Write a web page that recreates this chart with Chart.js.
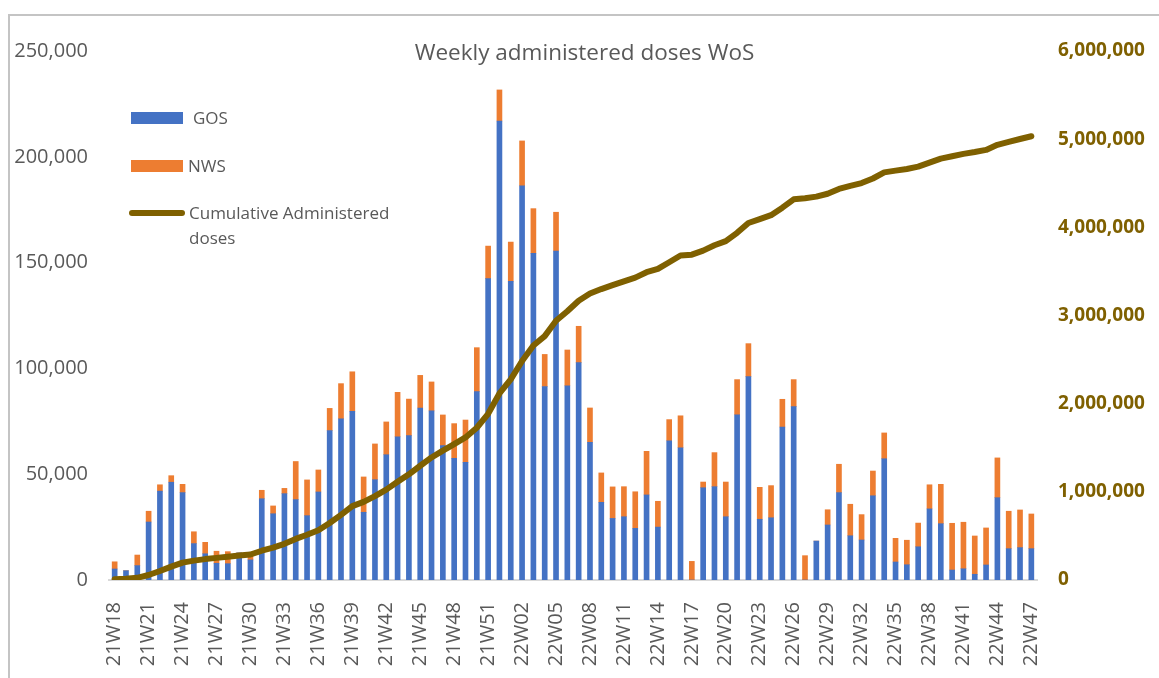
<!DOCTYPE html>
<html>
<head>
<meta charset="utf-8">
<title>Weekly administered doses WoS</title>
<script src="https://cdn.jsdelivr.net/npm/chart.js@4.4.0/dist/chart.umd.min.js"></script>
<style>
    body { margin: 0; background: #fff; font-family: 'Open Sans', sans-serif; }
    .wrap { position: relative; width: 1159px; height: 678px; overflow: hidden; }
    .frame { position: absolute; left: 8px; top: 14px; width: 1200px; height: 700px;
             border-top: 2px solid #c4c4c4; border-left: 2px solid #c4c4c4; }
    .title { position: absolute; left: 0; width: 1169px; top: 36px; text-align: center;
             font-size: 22.5px; color: #595959; }
    .legend { position: absolute; font-size: 17px; color: #595959; line-height: 25px; }
    .swatch { position: absolute; width: 52px; height: 12px; }
    .lineswatch { position: absolute; width: 56px; height: 6px; border-radius: 3px; background: #7F6000; }
    canvas { position: absolute; left: 0; top: 0; }
</style>
</head>
<body>
<div class="wrap">
    <div class="frame"></div>
    <canvas id="dosesChart" width="1159" height="678"></canvas>
    <div class="title">Weekly administered doses WoS</div>
    <div class="swatch" style="left:131px; top:112px; background:#4472C4"></div>
    <div class="legend" style="left:193px; top:105px">GOS</div>
    <div class="swatch" style="left:131px; top:160px; background:#ED7D31"></div>
    <div class="legend" style="left:188px; top:153px">NWS</div>
    <div class="lineswatch" style="left:129px; top:210px"></div>
    <div class="legend" style="left:189px; top:200px">Cumulative Administered<br>doses</div>
</div>
<script>
// Weeks 21W18 .. 22W47
const weeks = [
    '21W18', '21W19', '21W20', '21W21', '21W22', '21W23', '21W24', '21W25', '21W26', '21W27',
    '21W28', '21W29', '21W30', '21W31', '21W32', '21W33', '21W34', '21W35', '21W36', '21W37',
    '21W38', '21W39', '21W40', '21W41', '21W42', '21W43', '21W44', '21W45', '21W46', '21W47',
    '21W48', '21W49', '21W50', '21W51', '21W52', '22W01', '22W02', '22W03', '22W04', '22W05',
    '22W06', '22W07', '22W08', '22W09', '22W10', '22W11', '22W12', '22W13', '22W14', '22W15',
    '22W16', '22W17', '22W18', '22W19', '22W20', '22W21', '22W22', '22W23', '22W24', '22W25',
    '22W26', '22W27', '22W28', '22W29', '22W30', '22W31', '22W32', '22W33', '22W34', '22W35',
    '22W36', '22W37', '22W38', '22W39', '22W40', '22W41', '22W42', '22W43', '22W44', '22W45',
    '22W46', '22W47'
];

const gosDoses = [
    5200, 4400, 6800, 27400, 42000, 46200, 41300, 17200, 12400, 7900,
    7700, 12800, 9500, 38400, 31300, 40800, 38000, 30400, 41600, 70600,
    76200, 79700, 32000, 47400, 59200, 67700, 68200, 81300, 79900, 63500,
    57500, 55600, 89000, 142400, 216900, 141200, 186300, 154400, 91400, 155500,
    91800, 102700, 65100, 36700, 29100, 29900, 24400, 40200, 25000, 65800,
    62500, 0, 43600, 44100, 29900, 78100, 96100, 28700, 29400, 72300,
    81900, 0, 18400, 26000, 41300, 20900, 18900, 39800, 57300, 8500,
    7200, 15700, 33600, 26600, 4700, 5300, 2700, 7100, 38900, 14800,
    15300, 14800
];

const nwsDoses = [
    3400, 0, 5000, 5100, 3000, 3100, 3900, 5600, 5400, 5700,
    5700, 0, 2500, 4000, 3700, 2500, 18000, 16900, 10400, 10500,
    16600, 18700, 16700, 16900, 15500, 21000, 17300, 15400, 13700, 14500,
    16400, 20000, 20800, 15400, 14700, 18500, 21200, 21100, 15200, 18300,
    16900, 17200, 16200, 13900, 14900, 14200, 17300, 20600, 12200, 10000,
    15100, 8800, 2700, 16100, 16400, 16600, 15600, 15100, 15200, 13100,
    12800, 11500, 0, 7200, 13400, 14900, 12000, 11700, 12200, 11200,
    11600, 11200, 11400, 18600, 22100, 22000, 18100, 17500, 18800, 17700,
    17800, 16400
];

const cumulativeDoses = [
    9000, 13000, 25000, 57000, 102000, 152000, 197000, 220000, 237000, 251000,
    264000, 277000, 289000, 332000, 367000, 410000, 466000, 513000, 565000, 646000,
    739000, 838000, 886000, 951000, 1025000, 1114000, 1199000, 1296000, 1390000, 1468000,
    1542000, 1617000, 1727000, 1885000, 2116000, 2276000, 2484000, 2659000, 2766000, 2940000,
    3048000, 3168000, 3249000, 3300000, 3344000, 3388000, 3430000, 3491000, 3528000, 3604000,
    3681000, 3690000, 3736000, 3797000, 3843000, 3938000, 4049000, 4093000, 4138000, 4223000,
    4318000, 4329000, 4348000, 4381000, 4436000, 4471000, 4502000, 4554000, 4623000, 4643000,
    4662000, 4689000, 4734000, 4779000, 4806000, 4833000, 4854000, 4878000, 4936000, 4969000,
    5002000, 5033000
];

const leftTicks = [0, 50000, 100000, 150000, 200000, 250000];
const rightTicks = [0, 1000000, 2000000, 3000000, 4000000, 5000000, 6000000];

const GREY = '#595959';

document.addEventListener('DOMContentLoaded', function() {
    createDosesChart();
});

function createDosesChart() {
    const ctx = document.getElementById('dosesChart').getContext('2d');

    new Chart(ctx, {
        type: 'bar',
        data: {
            labels: weeks,
            datasets: [
                {
                    type: 'line',
                    label: 'Cumulative Administered doses',
                    data: cumulativeDoses,
                    yAxisID: 'y1',
                    borderColor: '#7F6000',
                    backgroundColor: '#7F6000',
                    borderWidth: 6,
                    borderCapStyle: 'round',
                    borderJoinStyle: 'round',
                    pointRadius: 0,
                    tension: 0,
                    order: 0
                },
                {
                    label: 'GOS',
                    data: gosDoses,
                    yAxisID: 'y',
                    backgroundColor: '#4472C4',
                    barThickness: 5,
                    stack: 'doses',
                    order: 1
                },
                {
                    label: 'NWS',
                    data: nwsDoses,
                    yAxisID: 'y',
                    backgroundColor: '#ED7D31',
                    barThickness: 5,
                    stack: 'doses',
                    order: 1
                }
            ]
        },
        options: {
            responsive: false,
            animation: false,
            layout: {
                padding: { top: 51 }
            },
            plugins: {
                legend: { display: false },
                title: { display: false },
                tooltip: { enabled: false }
            },
            scales: {
                x: {
                    stacked: true,
                    grid: { display: false },
                    border: { display: true, color: '#d9d9d9', width: 2 },
                    ticks: {
                        autoSkip: false,
                        maxRotation: 90,
                        minRotation: 90,
                        padding: 14,
                        color: GREY,
                        font: { family: 'Open Sans', size: 20 },
                        callback: function(value, index) {
                            return index % 3 === 0 ? weeks[index] : '';
                        }
                    },
                    afterFit: function(scale) { scale.height = 98; }
                },
                y: {
                    position: 'left',
                    stacked: true,
                    min: 0,
                    max: 250000,
                    grid: { display: false },
                    border: { display: false },
                    afterBuildTicks: function(scale) {
                        scale.ticks = leftTicks.map(v => ({ value: v }));
                    },
                    ticks: {
                        padding: 13,
                        color: GREY,
                        font: { family: 'Open Sans', size: 20 },
                        callback: value => value.toLocaleString('en-US')
                    },
                    afterFit: function(scale) { scale.width = 109; }
                },
                y1: {
                    position: 'right',
                    min: 0,
                    max: 6000000,
                    grid: { display: false },
                    border: { display: false },
                    afterBuildTicks: function(scale) {
                        scale.ticks = rightTicks.map(v => ({ value: v }));
                    },
                    ticks: {
                        padding: 13,
                        color: '#7F6000',
                        font: { family: 'Open Sans', size: 19, weight: 'bold' },
                        callback: value => value.toLocaleString('en-US')
                    },
                    afterFit: function(scale) { scale.width = 122; }
                }
            }
        }
    });
}
</script>
</body>
</html>
